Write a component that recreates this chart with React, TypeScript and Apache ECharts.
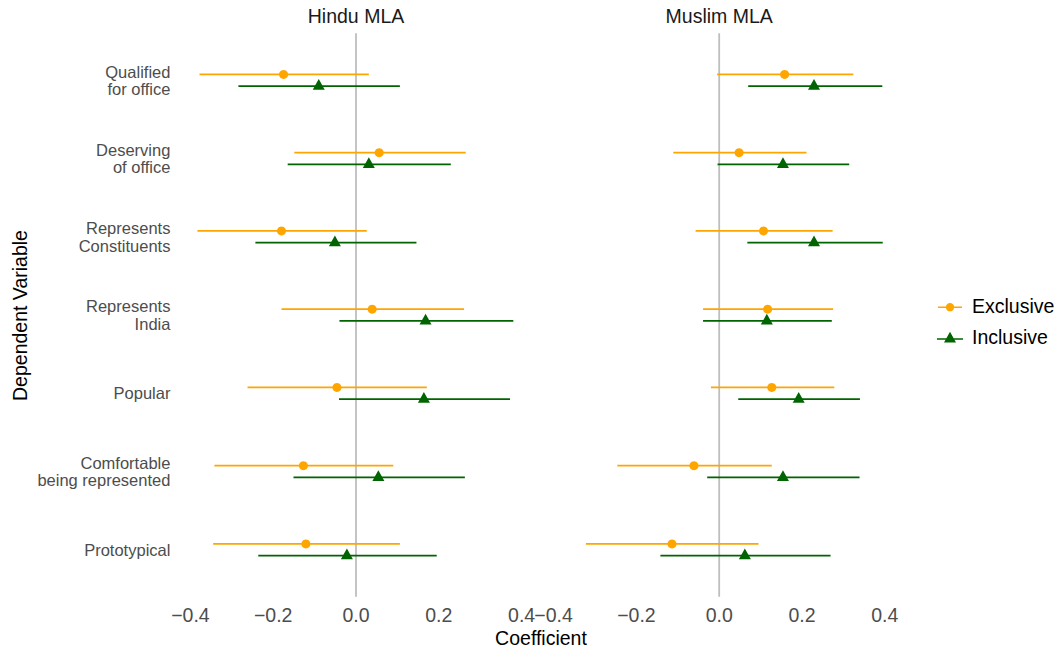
import React, { useEffect, useRef } from "react";
import * as echarts from "echarts";

// Dependent variables, top to bottom
const categories = [
  "Qualified\nfor office",
  "Deserving\nof office",
  "Represents\nConstituents",
  "Represents\nIndia",
  "Popular",
  "Comfortable\nbeing represented",
  "Prototypical",
];

const panelTitles = ["Hindu MLA", "Muslim MLA"];
const groupNames = ["Exclusive", "Inclusive"];
const xTicks = [-0.4, -0.2, 0, 0.2, 0.4];
const referenceLine = [0];

// Hindu MLA — Exclusive
const hinduExclusiveEst = [-0.175, 0.056, -0.18, 0.039, -0.046, -0.127, -0.121];
const hinduExclusiveLow = [-0.378, -0.149, -0.383, -0.18, -0.262, -0.342, -0.345];
const hinduExclusiveHigh = [0.031, 0.265, 0.026, 0.261, 0.171, 0.09, 0.106];
// Hindu MLA — Inclusive
const hinduInclusiveEst = [-0.09, 0.031, -0.051, 0.168, 0.164, 0.054, -0.022];
const hinduInclusiveLow = [-0.284, -0.165, -0.243, -0.04, -0.041, -0.151, -0.236];
const hinduInclusiveHigh = [0.106, 0.229, 0.146, 0.38, 0.372, 0.263, 0.195];
// Muslim MLA — Exclusive
const muslimExclusiveEst = [0.158, 0.048, 0.107, 0.117, 0.127, -0.061, -0.114];
const muslimExclusiveLow = [-0.005, -0.111, -0.057, -0.039, -0.02, -0.246, -0.322];
const muslimExclusiveHigh = [0.324, 0.211, 0.274, 0.275, 0.278, 0.127, 0.095];
// Muslim MLA — Inclusive
const muslimInclusiveEst = [0.229, 0.154, 0.229, 0.115, 0.192, 0.154, 0.062];
const muslimInclusiveLow = [0.07, -0.004, 0.068, -0.039, 0.046, -0.029, -0.142];
const muslimInclusiveHigh = [0.394, 0.314, 0.395, 0.272, 0.34, 0.339, 0.269];

const COLORS = { Exclusive: "#FFA500", Inclusive: "#006400" };
const FONT = "'Liberation Sans', Arial, Helvetica, sans-serif";
const DODGE = 0.075; // vertical dodge between groups, in category units

function rows(low: number[], high: number[], est: number[]) {
  return est.map((e, i) => [low[i], high[i], e, i]);
}

function fmtTick(v: number) {
  if (Math.abs(v) < 1e-9) return "0.0";
  return v.toFixed(1).replace("-", "\u2212");
}

function pointRangeSeries(
  name: string,
  gridIndex: number,
  data: number[][],
  offset: number,
  shape: "circle" | "triangle"
) {
  const color = (COLORS as any)[name];
  return {
    type: "custom",
    name,
    xAxisIndex: gridIndex,
    yAxisIndex: gridIndex,
    itemStyle: { color },
    encode: { x: [0, 1, 2], y: 3 },
    z: 3,
    data,
    renderItem: (params: any, api: any) => {
      const yv = api.value(3) + offset;
      const lo = api.coord([api.value(0), yv]);
      const hi = api.coord([api.value(1), yv]);
      const pt = api.coord([api.value(2), yv]);
      const marker =
        shape === "circle"
          ? {
              type: "circle",
              shape: { cx: pt[0], cy: pt[1], r: 4.5 },
              style: { fill: color },
            }
          : {
              type: "polygon",
              shape: {
                points: [
                  [pt[0], pt[1] - 7.1],
                  [pt[0] + 6, pt[1] + 3.6],
                  [pt[0] - 6, pt[1] + 3.6],
                ],
              },
              style: { fill: color },
            };
      return {
        type: "group",
        children: [
          {
            type: "line",
            shape: { x1: lo[0], y1: lo[1], x2: hi[0], y2: hi[1] },
            style: { stroke: color, lineWidth: 1.7 },
          },
          marker,
        ],
      };
    },
  };
}

function zeroLineSeries(gridIndex: number) {
  return {
    type: "custom",
    xAxisIndex: gridIndex,
    yAxisIndex: gridIndex,
    silent: true,
    z: 1,
    encode: { x: 0 },
    data: referenceLine.map((v) => [v]),
    renderItem: (params: any, api: any) => {
      const cs = params.coordSys;
      const x = api.coord([api.value(0), 0])[0];
      return {
        type: "line",
        shape: { x1: x, y1: cs.y, x2: x, y2: cs.y + cs.height },
        style: { stroke: "#BEBEBE", lineWidth: 1.8 },
      };
    },
  };
}

const GRID_TOP = 33.35;
const GRID_HEIGHT = 563.4;
const GRID_WIDTH = 331.2;
const GRID_LEFTS = [190.4, 553.6];

export default function App() {
  const ref = useRef<HTMLDivElement>(null);

  useEffect(() => {
    document.body.style.margin = "0";
    if (!ref.current) return;
    const chart = echarts.init(ref.current, undefined, { renderer: "svg" });

    const xAxes = GRID_LEFTS.map((_, gi) => ({
      type: "value",
      gridIndex: gi,
      min: xTicks[0],
      max: xTicks[xTicks.length - 1],
      interval: 0.2,
      axisLine: { show: false },
      axisTick: { show: false },
      splitLine: { show: false },
      axisLabel: {
        color: "#4D4D4D",
        fontSize: 19.5,
        fontFamily: FONT,
        margin: 8,
        formatter: fmtTick,
      },
    }));

    const yAxes = GRID_LEFTS.map((_, gi) => ({
      type: "value",
      gridIndex: gi,
      min: -0.6,
      max: categories.length - 0.4,
      inverse: true,
      axisLine: { show: false },
      axisTick: { show: false },
      splitLine: { show: false },
      axisLabel: {
        show: gi === 0,
        customValues: categories.map((_, i) => i),
        formatter: (v: number) => categories[Math.round(v)] ?? "",
        color: "#4D4D4D",
        fontSize: 16.5,
        lineHeight: 17.5,
        fontFamily: FONT,
        align: "right",
        margin: 20,
      },
    }));

    // Legend keys: horizontal segment with the group's marker on top
    const exclusiveIcon =
      "path://M0,0M26,10.7M0,6.3H26V7.9H0Z M8.5,7.1A4.5,4.5,0,1,1,17.5,7.1A4.5,4.5,0,1,1,8.5,7.1Z";
    const inclusiveIcon =
      "path://M0,0M26,10.7M0,6.3H26V7.9H0Z M13,0L19,10.7L7,10.7Z";

    chart.setOption({
      animation: false,
      backgroundColor: "#FFFFFF",
      grid: GRID_LEFTS.map((left) => ({
        left,
        top: GRID_TOP,
        width: GRID_WIDTH,
        height: GRID_HEIGHT,
        containLabel: false,
      })),
      xAxis: xAxes,
      yAxis: yAxes,
      legend: {
        orient: "vertical",
        left: 932,
        top: 291,
        itemWidth: 26,
        itemHeight: 10.7,
        itemGap: 11.2,
        textStyle: {
          color: "#000000",
          fontSize: 19.5,
          fontFamily: FONT,
          padding: [0, 0, 0, 4],
        },
        data: [
          { name: groupNames[0], icon: exclusiveIcon, itemStyle: { color: COLORS.Exclusive, borderWidth: 0 } },
          { name: groupNames[1], icon: inclusiveIcon, itemStyle: { color: COLORS.Inclusive, borderWidth: 0 } },
        ],
      },
      graphic: [
        ...panelTitles.map((t, i) => ({
          type: "text",
          x: GRID_LEFTS[i] + GRID_WIDTH / 2,
          y: 16,
          style: {
            text: t,
            align: "center",
            verticalAlign: "middle",
            fontSize: 19.5,
            fontFamily: FONT,
            fill: "#1A1A1A",
          },
        })),
        {
          type: "text",
          x: 541,
          y: 638,
          style: {
            text: "Coefficient",
            align: "center",
            verticalAlign: "middle",
            fontSize: 19.5,
            fontFamily: FONT,
            fill: "#000000",
          },
        },
        {
          type: "text",
          x: 20,
          y: 315.5,
          rotation: Math.PI / 2,
          style: {
            text: "Dependent Variable",
            align: "center",
            verticalAlign: "middle",
            fontSize: 19.5,
            fontFamily: FONT,
            fill: "#000000",
          },
        },
      ],
      series: [
        zeroLineSeries(0),
        zeroLineSeries(1),
        pointRangeSeries("Exclusive", 0, rows(hinduExclusiveLow, hinduExclusiveHigh, hinduExclusiveEst), -DODGE, "circle"),
        pointRangeSeries("Inclusive", 0, rows(hinduInclusiveLow, hinduInclusiveHigh, hinduInclusiveEst), DODGE, "triangle"),
        pointRangeSeries("Exclusive", 1, rows(muslimExclusiveLow, muslimExclusiveHigh, muslimExclusiveEst), -DODGE, "circle"),
        pointRangeSeries("Inclusive", 1, rows(muslimInclusiveLow, muslimInclusiveHigh, muslimInclusiveEst), DODGE, "triangle"),
      ],
    });

    return () => chart.dispose();
  }, []);

  return <div ref={ref} style={{ width: 1059, height: 650 }} />;
}
